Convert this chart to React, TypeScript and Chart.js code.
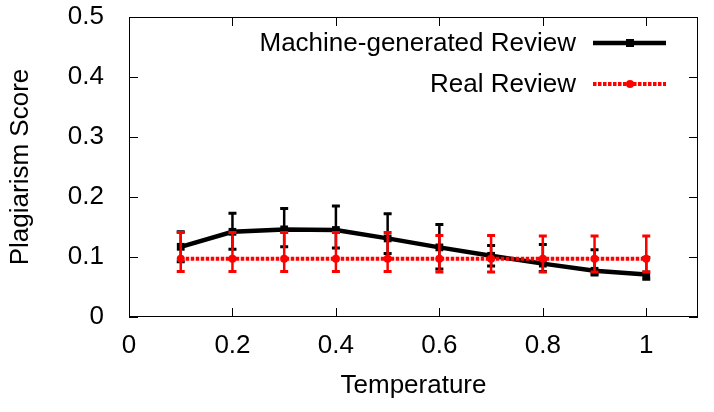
import { useEffect, useRef } from "react";
import { Chart, registerables } from "chart.js";

Chart.register(...registerables);

const temperatures = [0.1, 0.2, 0.3, 0.4, 0.5, 0.6, 0.7, 0.8, 0.9, 1.0];
const machineScore = [0.117, 0.142, 0.146, 0.145, 0.131, 0.116, 0.102, 0.089, 0.077, 0.071];
const machineLow = [0.092, 0.113, 0.117, 0.115, 0.106, 0.080, 0.085, 0.076, 0.070, 0.063];
const machineHigh = [0.142, 0.173, 0.181, 0.185, 0.172, 0.154, 0.119, 0.121, 0.112, 0.099];
const realScore = [0.097, 0.097, 0.097, 0.097, 0.097, 0.097, 0.097, 0.097, 0.097, 0.097];
const realLow = [0.076, 0.076, 0.076, 0.076, 0.076, 0.075, 0.075, 0.075, 0.075, 0.075];
const realHigh = [0.141, 0.141, 0.141, 0.141, 0.141, 0.136, 0.136, 0.135, 0.135, 0.135];
const xTickValues = [0, 0.2, 0.4, 0.6, 0.8, 1];
const yTickValues = [0, 0.1, 0.2, 0.3, 0.4, 0.5];
const seriesNames = ["Machine-generated Review", "Real Review"];
const seriesColors = ["#000000", "#ff0000"];

const FONT = '"Liberation Sans", Arial, Helvetica, sans-serif';

const fmt = (v: number) => (v === 0 ? "0" : v === 1 ? "1" : v.toFixed(1));

export default function App() {
  const ref = useRef<HTMLCanvasElement>(null);

  useEffect(() => {
    const canvas = ref.current;
    if (!canvas) return;
    const errors = [
      { low: machineLow, high: machineHigh },
      { low: realLow, high: realHigh },
    ];

    const errorBarPlugin = {
      id: "errorBars",
      afterDatasetDraw(chart: any, args: any) {
        const idx = args.index;
        const err = errors[idx];
        if (!err) return;
        const { ctx, scales } = chart;
        const color = seriesColors[idx];
        ctx.save();
        ctx.strokeStyle = color;
        for (let i = 0; i < temperatures.length; i++) {
          const x = scales.x.getPixelForValue(temperatures[i]);
          const yl = scales.y.getPixelForValue(err.low[i]);
          const yh = scales.y.getPixelForValue(err.high[i]);
          ctx.lineWidth = 2.5;
          ctx.beginPath();
          ctx.moveTo(x, yl);
          ctx.lineTo(x, yh);
          ctx.stroke();
          ctx.lineWidth = 3;
          ctx.beginPath();
          ctx.moveTo(x - 4, yl);
          ctx.lineTo(x + 4, yl);
          ctx.moveTo(x - 4, yh);
          ctx.lineTo(x + 4, yh);
          ctx.stroke();
        }
        ctx.restore();
      },
    };

    const framePlugin = {
      id: "frame",
      beforeDatasetsDraw(chart: any) {
        const { ctx, chartArea: a, scales } = chart;
        ctx.save();
        ctx.strokeStyle = "#000";
        ctx.lineWidth = 1;
        ctx.strokeRect(a.left + 0.5, a.top + 0.5, a.right - a.left - 1, a.bottom - a.top - 1);
        ctx.beginPath();
        for (const v of yTickValues) {
          const y = Math.round(scales.y.getPixelForValue(v)) + 0.5;
          ctx.moveTo(a.left, y);
          ctx.lineTo(a.left + 9, y);
          ctx.moveTo(a.right, y);
          ctx.lineTo(a.right - 9, y);
        }
        for (const v of xTickValues) {
          const x = Math.round(scales.x.getPixelForValue(v)) + 0.5;
          ctx.moveTo(x, a.bottom);
          ctx.lineTo(x, a.bottom - 9);
          ctx.moveTo(x, a.top);
          ctx.lineTo(x, a.top + 9);
        }
        ctx.stroke();
        ctx.restore();
      },
    };

    const legendPlugin = {
      id: "insideLegend",
      afterDraw(chart: any) {
        const { ctx } = chart;
        const rows = [43, 84];
        ctx.save();
        ctx.font = `26px ${FONT}`;
        ctx.textAlign = "right";
        ctx.textBaseline = "middle";
        ctx.fillStyle = "#000";
        seriesNames.forEach((name, i) => {
          const y = rows[i];
          ctx.fillText(name, 576, y + 1);
          ctx.strokeStyle = seriesColors[i];
          ctx.fillStyle = seriesColors[i];
          ctx.lineWidth = i === 0 ? 4.5 : 4;
          ctx.setLineDash(i === 0 ? [] : [3.5, 1.5]);
          ctx.beginPath();
          ctx.moveTo(593, y);
          ctx.lineTo(666, y);
          ctx.stroke();
          ctx.setLineDash([]);
          if (i === 0) {
            ctx.fillRect(630 - 4, y - 4, 8, 8);
          } else {
            ctx.beginPath();
            ctx.arc(630, y, 4, 0, Math.PI * 2);
            ctx.fill();
          }
          ctx.fillStyle = "#000";
        });
        ctx.restore();
      },
    };

    const chart = new Chart(canvas, {
      type: "line",
      data: {
        datasets: [
          {
            label: seriesNames[0],
            data: temperatures.map((t, i) => ({ x: t, y: machineScore[i] })),
            borderColor: seriesColors[0],
            backgroundColor: seriesColors[0],
            borderWidth: 4.5,
            pointStyle: "rect",
            pointRadius: 5.5,
            pointBorderWidth: 0,
            pointBackgroundColor: seriesColors[0],
            tension: 0,
            order: 1,
          },
          {
            label: seriesNames[1],
            data: temperatures.map((t, i) => ({ x: t, y: realScore[i] })),
            borderColor: seriesColors[1],
            backgroundColor: seriesColors[1],
            borderWidth: 4,
            borderDash: [3.5, 1.5],
            pointStyle: "circle",
            pointRadius: 4,
            pointBorderWidth: 0,
            pointBackgroundColor: seriesColors[1],
            tension: 0,
            order: 0,
          },
        ],
      },
      options: {
        responsive: false,
        animation: false,
        events: [],
        layout: { padding: { top: 17, right: 16, left: 0, bottom: 0 } },
        plugins: { legend: { display: false }, tooltip: { enabled: false } },
        scales: {
          x: {
            type: "linear",
            min: 0,
            max: 1.1,
            grid: { display: false },
            border: { display: false },
            afterBuildTicks: (s: any) => {
              s.ticks = xTickValues.map((v) => ({ value: v }));
            },
            afterFit: (s: any) => {
              s.height = 95;
              s.paddingLeft = 0;
              s.paddingRight = 0;
            },
            ticks: {
              font: { family: FONT, size: 26 },
              color: "#000",
              padding: 5,
              maxRotation: 0,
              autoSkip: false,
              callback: (v: any) => fmt(Number(v)),
            },
            title: {
              display: true,
              text: "Temperature",
              font: { family: FONT, size: 26 },
              color: "#000",
              padding: { top: 0, bottom: 11 },
            },
          },
          y: {
            type: "linear",
            min: 0,
            max: 0.5,
            grid: { display: false },
            border: { display: false },
            afterBuildTicks: (s: any) => {
              s.ticks = yTickValues.map((v) => ({ value: v }));
            },
            afterFit: (s: any) => {
              s.width = 129;
              s.paddingTop = 0;
              s.paddingBottom = 0;
            },
            ticks: {
              font: { family: FONT, size: 26 },
              color: "#000",
              padding: 17,
              autoSkip: false,
              callback: (v: any) => fmt(Number(v)),
            },
            title: {
              display: true,
              text: "Plagiarism Score",
              font: { family: FONT, size: 26 },
              color: "#000",
              padding: { top: 5, bottom: 0 },
            },
          },
        },
      },
      plugins: [framePlugin, errorBarPlugin, legendPlugin],
    } as any);

    return () => chart.destroy();
  }, []);

  return (
    <div style={{ position: "fixed", left: 0, top: 0, width: 714, height: 412, background: "#fff" }}>
      <canvas ref={ref} width={714} height={412} style={{ display: "block" }} />
    </div>
  );
}
